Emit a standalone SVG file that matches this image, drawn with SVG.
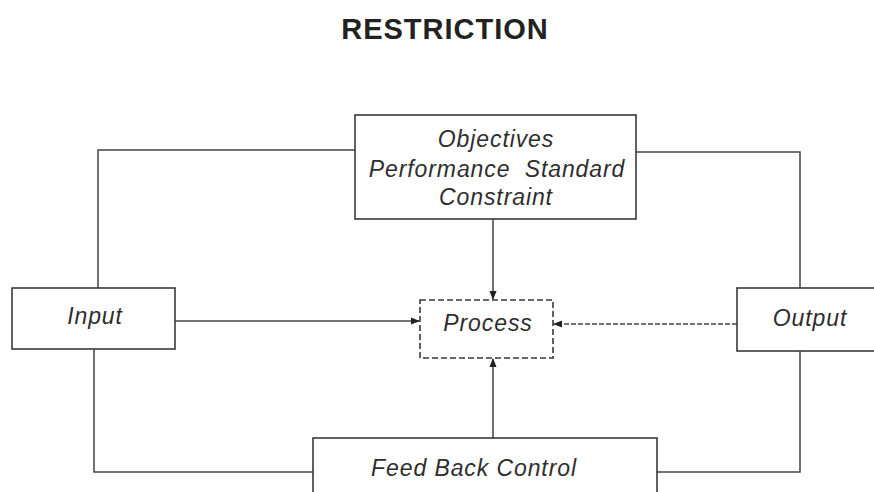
<svg xmlns="http://www.w3.org/2000/svg" width="874" height="492" viewBox="0 0 874 492">
<defs>
<style>
.box{fill:#fff;stroke:#3a3a3a;stroke-width:1.6}
.dash{stroke-dasharray:6 3}
.lbl{font-family:"Liberation Sans",Arial,sans-serif;font-style:italic;font-size:23px;letter-spacing:0.9px;fill:#2e2e2e;text-anchor:middle}
.ttl{font-family:"Liberation Sans",Arial,sans-serif;font-weight:bold;font-size:29px;letter-spacing:1px;fill:#222;text-anchor:middle}
.ln{fill:none;stroke:#444;stroke-width:1.5}
</style>
<marker id="ah" viewBox="0 0 10 10" refX="9" refY="5" markerWidth="9" markerHeight="9" orient="auto" markerUnits="userSpaceOnUse">
<path d="M0,1 L10,5 L0,9 z" fill="#222"/>
</marker>
</defs>
<rect width="874" height="492" fill="#fff"/>
<text class="ttl" x="445" y="39">RESTRICTION</text>
<g id="connectors">
<polyline class="ln" points="98,288 98,150 355,150"/>
<polyline class="ln" points="636,152 800,152 800,288"/>
<polyline class="ln" points="94,349 94,472 313,472"/>
<polyline class="ln" points="657,472 800,472 800,351"/>
<line class="ln" x1="493" y1="219" x2="493" y2="299" marker-end="url(#ah)"/>
<line class="ln" x1="493" y1="438" x2="493" y2="359" marker-end="url(#ah)"/>
<line class="ln" x1="175" y1="321" x2="419" y2="321" marker-end="url(#ah)"/>
<line class="ln" x1="737" y1="324" x2="554" y2="324" stroke-dasharray="5 2" marker-end="url(#ah)"/>
</g>
<g id="objectives">
<rect class="box" x="355" y="115" width="281" height="104"/>
<text class="lbl" x="496" y="147">Objectives</text>
<text class="lbl" x="497" y="177" word-spacing="7">Performance Standard</text>
<text class="lbl" x="496" y="205">Constraint</text>
</g>
<g id="input">
<rect class="box" x="12" y="288" width="163" height="61"/>
<text class="lbl" x="95" y="324">Input</text>
</g>
<g id="process">
<rect class="box dash" x="420" y="300" width="133" height="58"/>
<text class="lbl" x="488" y="331">Process</text>
</g>
<g id="output">
<rect class="box" x="737" y="288" width="145" height="63"/>
<text class="lbl" x="810" y="326">Output</text>
</g>
<g id="feedback">
<rect class="box" x="313" y="438" width="344" height="70"/>
<text class="lbl" x="474" y="476">Feed Back Control</text>
</g>
</svg>
